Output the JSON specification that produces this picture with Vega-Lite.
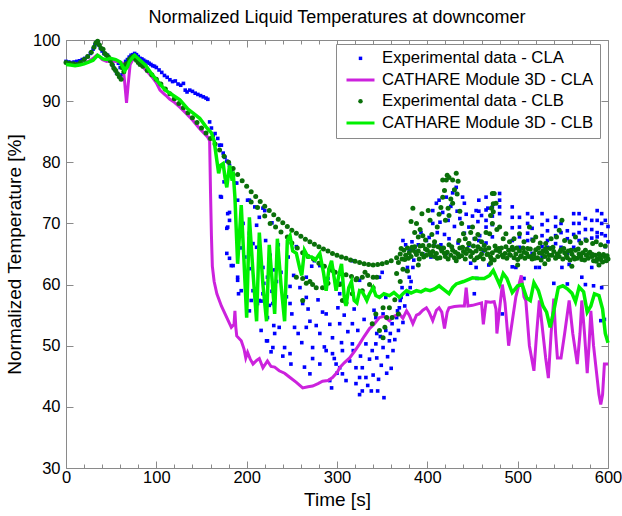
{
"$schema": "https://vega.github.io/schema/vega-lite/v6.json",
"width": 542, "height": 428,
"autosize": {"type": "none"},
"padding": {"left": 66, "top": 40, "right": 14, "bottom": 48},
"background": "white",
"title": {"text": "Normalized Liquid Temperatures at downcomer", "font": "Liberation Sans", "fontSize": 18, "fontWeight": "normal", "color": "black", "offset": 5, "anchor": "middle"},
"config": {
  "view": {"stroke": "#8a8a8a", "strokeWidth": 1},
  "axis": {"domain": false, "grid": false, "tickColor": "#8a8a8a", "tickWidth": 1, "labelFont": "Liberation Sans", "labelFontSize": 16.5, "labelColor": "black", "titleFont": "Liberation Sans", "titleFontSize": 19, "titleFontWeight": "normal", "titleColor": "black", "labelFlush": false, "labelOverlap": false},
  "legend": {"orient": "none", "legendX": 270, "legendY": 4, "padding": 6, "strokeColor": "#8a8a8a", "fillColor": "white", "labelFont": "Liberation Sans", "labelFontSize": 16.7, "labelColor": "black", "labelLimit": 0, "labelOffset": 13, "symbolOffset": 10, "symbolOpacity": 1, "rowPadding": 3.5}
},
"datasets": {
"lg": [{"s":"Experimental data - CLA"},{"s":"CATHARE Module 3D - CLA"},{"s":"Experimental data - CLB"},{"s":"CATHARE Module 3D - CLB"}],
"ea": [
{"t":0,"v":96.5},{"t":3,"v":96.4},{"t":6,"v":96.3},{"t":9,"v":96.4},{"t":12,"v":96.5},{"t":15,"v":96.6},{"t":18,"v":96.8},{"t":21,"v":97.0},{"t":24,"v":97.3},{"t":27,"v":97.8},{"t":30,"v":98.5},{"t":32,"v":99.2},{"t":34,"v":99.6},{"t":36,"v":99.3},{"t":38,"v":98.7},{"t":40,"v":98.2},{"t":42,"v":97.8},{"t":44,"v":97.6},{"t":46,"v":97.5},{"t":48,"v":97.0},{"t":50,"v":96.5},{"t":52,"v":95.8},{"t":54,"v":95.2},{"t":56,"v":94.6},{"t":58,"v":96.2},{"t":60,"v":95.5},{"t":62,"v":94.3},{"t":64,"v":95.8},{"t":66,"v":96.5},{"t":68,"v":96.8},{"t":70,"v":97.2},{"t":72,"v":97.5},{"t":74,"v":97.6},{"t":76,"v":97.8},{"t":78,"v":97.6},{"t":80,"v":97.3},{"t":82,"v":97.0},{"t":84,"v":96.9},{"t":86,"v":96.7},{"t":88,"v":96.5},{"t":90,"v":96.4},{"t":92,"v":96.2},{"t":94,"v":96.0},{"t":96,"v":95.8},{"t":98,"v":95.7},{"t":100,"v":95.5},{"t":103,"v":95.1},{"t":106,"v":94.7},{"t":109,"v":94.2},{"t":112,"v":93.9},{"t":115,"v":93.5},{"t":118,"v":93.2},{"t":121,"v":93.3},{"t":124,"v":92.8},{"t":127,"v":92.6},{"t":130,"v":92.9},{"t":132,"v":91.8},{"t":134,"v":91.5},{"t":137,"v":91.8},{"t":140,"v":91.6},{"t":143,"v":91.3},{"t":146,"v":91.1},{"t":149,"v":90.9},{"t":152,"v":90.7},{"t":155,"v":90.5},{"t":157,"v":90.3},
{"t":159,"v":86.6},{"t":161,"v":85.6},{"t":163,"v":84.4},{"t":165,"v":84.7},{"t":168,"v":83.9},{"t":170,"v":82.8},{"t":172,"v":82.8},{"t":174,"v":81.5},{"t":176,"v":80.8},{"t":178,"v":80.2},{"t":181,"v":79.5},{"t":183,"v":78.5},{"t":171,"v":74.4},{"t":172,"v":74.3},{"t":175,"v":76.8},{"t":179,"v":71.6},{"t":181,"v":71.8},{"t":178,"v":69.2},{"t":179,"v":69.4},{"t":181,"v":70.5},{"t":178,"v":65.1},{"t":181,"v":64.3},{"t":183,"v":63.1},{"t":185,"v":63.1},{"t":187,"v":76.6},{"t":189,"v":76.6},{"t":190,"v":73.8},{"t":190,"v":61.2},{"t":190,"v":60.7},{"t":191,"v":58.5},{"t":194,"v":59},{"t":193,"v":66},{"t":196,"v":70},{"t":198,"v":64.5},{"t":201,"v":73.8},{"t":203,"v":73.8},{"t":203,"v":68.4},{"t":203,"v":67.5},{"t":203,"v":62.6},{"t":205,"v":57.4},{"t":203,"v":55.7},{"t":207,"v":66.7},{"t":207,"v":59},{"t":209,"v":72.7},{"t":211,"v":69.7},{"t":211,"v":66.1},{"t":212,"v":56.9},{"t":214,"v":71},{"t":214,"v":64.4},{"t":214,"v":57.4},{"t":216,"v":52.5},{"t":218,"v":72.5},{"t":218,"v":62.8},{"t":219,"v":60.2},{"t":221,"v":67.2},{"t":223,"v":61.2},{"t":223,"v":54.6},{"t":223,"v":50.8},{"t":225,"v":56.6},{"t":226,"v":64.8},{"t":228,"v":70.1},{"t":228,"v":58.9},{"t":230,"v":53.3},{"t":231,"v":62.4},
{"t":220,"v":72.1},{"t":216,"v":57.3},{"t":218,"v":58.5},{"t":222,"v":50.8},{"t":227,"v":49},{"t":229,"v":56.9},{"t":229,"v":49.7},{"t":231,"v":52},{"t":233,"v":60.5},{"t":235,"v":66.5},{"t":236,"v":53},{"t":238,"v":62},{"t":240,"v":48.3},{"t":242,"v":49.7},{"t":244,"v":58},{"t":246,"v":64.5},{"t":248,"v":56.9},{"t":248,"v":59.7},{"t":248,"v":48.7},{"t":249,"v":47},{"t":250,"v":55.2},{"t":252,"v":61.5},{"t":253,"v":53},{"t":255,"v":66.2},{"t":257,"v":52},{"t":259,"v":59.5},{"t":261,"v":50.5},{"t":262,"v":56.9},{"t":264,"v":46.5},{"t":266,"v":57.9},{"t":266,"v":61.2},{"t":266,"v":53},{"t":268,"v":56},{"t":270,"v":54},{"t":270,"v":45.4},{"t":272,"v":63},{"t":273,"v":49.7},{"t":273,"v":47.9},{"t":275,"v":63.9},{"t":277,"v":53.3},{"t":279,"v":57.5},{"t":281,"v":52},{"t":281,"v":47},{"t":281,"v":63.1},{"t":284,"v":55.5},{"t":286,"v":49.8},{"t":288,"v":55.2},{"t":288,"v":49.2},{"t":290,"v":61},{"t":292,"v":53.5},{"t":292,"v":44.3},{"t":294,"v":43.1},{"t":295,"v":48.7},{"t":295,"v":51.3},{"t":297,"v":47.9},{"t":299,"v":47},{"t":300,"v":45.5},{"t":301,"v":56.2},{"t":303,"v":46.4},{"t":303,"v":58.5},{"t":303,"v":53.6},{"t":304,"v":60.2},{"t":305,"v":50.5},{"t":306,"v":45.4},{"t":306,"v":49.2},{"t":308,"v":55},{"t":310,"v":57.4},{"t":310,"v":44.3},{"t":312,"v":52.3},{"t":314,"v":47.5},{"t":317,"v":50.3},{"t":317,"v":53.6},{"t":318,"v":49.2},{"t":317,"v":63.9},{"t":319,"v":56},{"t":321,"v":46.4},{"t":321,"v":43.8},{"t":323,"v":52.5},{"t":325,"v":44.8},{"t":325,"v":42},{"t":325,"v":60.7},{"t":326,"v":48.3},{"t":328,"v":42.6},{"t":328,"v":46.4},{"t":330,"v":54.3},{"t":332,"v":44.8},{"t":332,"v":57.9},{"t":332,"v":50.3},{"t":334,"v":43.5},{"t":336,"v":47.8},{"t":338,"v":42.6},{"t":339,"v":49.2},{"t":340,"v":45.2},{"t":341,"v":55.8},{"t":343,"v":50.3},{"t":343,"v":54.6},{"t":344,"v":52},{"t":344,"v":48},{"t":345,"v":42.6},{"t":346,"v":44.5},{"t":347,"v":61.2},{"t":348,"v":51.5},{"t":349,"v":46.8},{"t":350,"v":62},{"t":351,"v":49.7},{"t":351,"v":55.2},{"t":352,"v":41.5},{"t":354,"v":52.5},{"t":354,"v":57.9},{"t":355,"v":45.5},{"t":356,"v":48.2},{"t":358,"v":50.8},{"t":359,"v":52},{"t":360,"v":46.3},{"t":361,"v":53.6},{"t":362,"v":49.2},{"t":364,"v":51},{"t":366,"v":54.6},{"t":367,"v":55.7},{"t":368,"v":52.5},{"t":369,"v":56.2},{"t":370,"v":57.4},{"t":371,"v":57.9},{"t":372,"v":59.5},{"t":373,"v":53.8},{"t":375,"v":56.5},{"t":377,"v":62.3},{"t":378,"v":62.8},{"t":378,"v":58.4},{"t":380,"v":61.2},{"t":381,"v":59.5},{"t":382,"v":60.5},{"t":384,"v":62.8},{"t":385,"v":64},
{"t":373,"v":67.2},{"t":376,"v":66.5},{"t":380,"v":65.6},{"t":383,"v":67},{"t":386,"v":66},{"t":390,"v":66.5},{"t":393,"v":68.5},{"t":395,"v":65},{"t":399,"v":67.2},{"t":402,"v":67.7},{"t":404,"v":64.5},{"t":406,"v":70},{"t":406,"v":72.1},{"t":408,"v":66.8},{"t":410,"v":73.3},{"t":411,"v":68.5},{"t":413,"v":73.8},{"t":414,"v":70.2},{"t":415,"v":66.5},{"t":417,"v":71.8},{"t":419,"v":68.2},{"t":421,"v":74.3},{"t":421,"v":65.1},{"t":423,"v":70.5},{"t":424,"v":67.5},{"t":426,"v":72.8},{"t":428,"v":75},{"t":430,"v":75.4},{"t":430,"v":69.5},{"t":432,"v":75.9},{"t":433,"v":72},{"t":434,"v":66.8},{"t":436,"v":70.8},{"t":439,"v":74.3},{"t":441,"v":73.3},{"t":441,"v":68.4},{"t":443,"v":71.5},{"t":446,"v":69.4},{"t":446,"v":66.4},{"t":448,"v":63.5},{"t":450,"v":71.2},{"t":452,"v":67.5},{"t":454,"v":72.1},{"t":454,"v":62.8},{"t":455,"v":61},{"t":452,"v":58.5},{"t":456,"v":70.3},{"t":458,"v":68},{"t":460,"v":71.3},{"t":462,"v":65.5},{"t":465,"v":69.4},{"t":465,"v":66.8},{"t":467,"v":72.5},{"t":468,"v":63.2},
{"t":457,"v":73.8},{"t":457,"v":72},{"t":457,"v":67.2},{"t":465,"v":74.3},{"t":465,"v":72.2},{"t":465,"v":70.5},{"t":472,"v":72.7},{"t":472,"v":71.2},{"t":472,"v":69.8},{"t":472,"v":67.8},{"t":480,"v":74.9},{"t":480,"v":73.8},{"t":480,"v":72.7},{"t":480,"v":71.6},{"t":483,"v":55.2},{"t":494,"v":72.7},{"t":494,"v":71},{"t":494,"v":69.3},{"t":494,"v":67.2},{"t":494,"v":62.9},{"t":498,"v":62.8},{"t":502,"v":71},{"t":502,"v":69.4},{"t":502,"v":67.8},{"t":502,"v":66.1},{"t":507,"v":61},{"t":511,"v":71.6},{"t":511,"v":70},{"t":511,"v":68.4},{"t":511,"v":67.2},{"t":516,"v":71},{"t":516,"v":69.2},{"t":516,"v":67.4},{"t":516,"v":65.1},{"t":520,"v":62.8},{"t":524,"v":62.8},{"t":527,"v":71.6},{"t":527,"v":69.8},{"t":527,"v":68},{"t":527,"v":66.2},{"t":527,"v":64.5},{"t":533,"v":70.5},{"t":533,"v":68.8},{"t":533,"v":67.2},{"t":533,"v":66.1},{"t":540,"v":60.2},{"t":542,"v":71},{"t":542,"v":69.5},{"t":542,"v":68},{"t":542,"v":66.7},{"t":548,"v":70},{"t":548,"v":68.5},{"t":548,"v":66.1},{"t":549,"v":62.8},{"t":555,"v":68.8},{"t":555,"v":67.5},{"t":555,"v":65.1},{"t":555,"v":60.1},{"t":557,"v":63.3},{"t":562,"v":71.6},{"t":562,"v":70},{"t":562,"v":68.2},{"t":562,"v":66.1},{"t":568,"v":71.6},{"t":568,"v":70},{"t":568,"v":68.5},{"t":568,"v":67.2},{"t":571,"v":61.2},{"t":575,"v":70.8},{"t":575,"v":69},{"t":575,"v":67.4},{"t":575,"v":60},{"t":582,"v":70.5},{"t":582,"v":69},{"t":582,"v":67.6},{"t":582,"v":62.8},{"t":584,"v":59.8},{"t":588,"v":72.1},{"t":588,"v":70.5},{"t":588,"v":68.5},{"t":588,"v":67.8},{"t":592,"v":54.1},{"t":593,"v":71.6},{"t":593,"v":70},{"t":593,"v":68.3},{"t":593,"v":59.5},{"t":596,"v":54.3},{"t":597,"v":70.5},{"t":597,"v":68},{"t":597,"v":66.2},{"t":600,"v":69.5},{"t":600,"v":67}
],
"ca": [
{"t":0,"v":96.2},{"t":5,"v":96.2},{"t":10,"v":96.1},{"t":15,"v":96.0},{"t":20,"v":96.2},{"t":25,"v":96.5},{"t":30,"v":97.0},{"t":34,"v":97.5},{"t":37,"v":97.3},{"t":40,"v":96.8},{"t":45,"v":96.5},{"t":50,"v":96.6},{"t":55,"v":96.5},{"t":60,"v":96.4},{"t":63,"v":96.2},{"t":65,"v":93},{"t":67,"v":89.7},{"t":69,"v":93},{"t":71,"v":96.0},{"t":74,"v":96.8},{"t":77,"v":97.2},{"t":80,"v":96.5},{"t":85,"v":95.6},{"t":90,"v":94.8},{"t":95,"v":94},{"t":100,"v":93},{"t":104,"v":91.8},{"t":110,"v":91},{"t":115,"v":90.3},{"t":120,"v":89.8},{"t":126,"v":89},{"t":133,"v":88},{"t":140,"v":86.9},{"t":148,"v":85.5},{"t":157,"v":84.1},{"t":159,"v":83.5},{"t":160,"v":75},{"t":161,"v":68},{"t":162,"v":63},{"t":164,"v":60.5},{"t":167,"v":58.5},{"t":172,"v":56.5},{"t":178,"v":54.6},{"t":183,"v":53},{"t":186,"v":53.5},{"t":187,"v":55.7},{"t":188,"v":53},{"t":189,"v":51.6},{"t":194,"v":50.8},{"t":197,"v":49.5},{"t":199,"v":48},{"t":201,"v":48.9},{"t":204,"v":47.8},{"t":207,"v":47},{"t":211,"v":47.6},{"t":214,"v":47.9},{"t":218,"v":46.4},{"t":223,"v":47.5},{"t":227,"v":46.6},{"t":231,"v":46.5},{"t":236,"v":45.9},{"t":242,"v":45.5},{"t":248,"v":44.8},{"t":255,"v":44},{"t":262,"v":43.1},{"t":268,"v":43.3},{"t":273,"v":43.4},{"t":279,"v":43.8},{"t":284,"v":44.2},{"t":290,"v":44.3},{"t":295,"v":44.8},{"t":300,"v":45.6},{"t":303,"v":46.4},{"t":308,"v":47.2},{"t":314,"v":48},{"t":320,"v":49.2},{"t":325,"v":50.3},{"t":330,"v":51.5},{"t":336,"v":52.8},{"t":341,"v":53.5},{"t":347,"v":54.6},{"t":352,"v":54.8},{"t":358,"v":54.1},{"t":363,"v":54.8},{"t":369,"v":55.2},{"t":373,"v":54.5},{"t":377,"v":55.7},{"t":380,"v":55},{"t":384,"v":53.6},{"t":388,"v":55},{"t":391,"v":55.2},{"t":395,"v":55.8},{"t":399,"v":56.2},{"t":402,"v":55.5},{"t":406,"v":54.1},{"t":410,"v":55.8},{"t":413,"v":56.2},{"t":416,"v":55.5},{"t":419,"v":52.8},{"t":422,"v":55.5},{"t":424,"v":56.2},{"t":430,"v":56.4},{"t":436,"v":56.5},{"t":441,"v":56.5},{"t":443,"v":59.5},{"t":445,"v":56.5},{"t":450,"v":56.6},{"t":455,"v":56.8},{"t":460,"v":57},{"t":462,"v":53.5},{"t":465,"v":57.2},{"t":470,"v":57.1},{"t":474,"v":57.2},{"t":476,"v":56},{"t":477,"v":52},{"t":480,"v":56},{"t":483,"v":60},{"t":486,"v":57},{"t":490,"v":50},{"t":494,"v":54},{"t":498,"v":58},{"t":504,"v":61.5},{"t":507,"v":58},{"t":509,"v":57.4},{"t":513,"v":50},{"t":518,"v":45.9},{"t":521,"v":52},{"t":524,"v":57.4},{"t":528,"v":52},{"t":531,"v":48},{"t":534,"v":44.7},{"t":537,"v":52},{"t":540,"v":57.7},{"t":542,"v":52},{"t":544,"v":48},{"t":548,"v":48},{"t":552,"v":52},{"t":557,"v":57.4},{"t":561,"v":52},{"t":566,"v":47},{"t":569,"v":52},{"t":571,"v":57.4},{"t":574,"v":52},{"t":577,"v":45.5},{"t":579,"v":50},{"t":581,"v":55.7},{"t":584,"v":50},{"t":587,"v":46},{"t":590,"v":42},{"t":592,"v":40.4},{"t":594,"v":42},{"t":596,"v":47},{"t":600,"v":47}
],
"eb": [
{"t":0,"v":96.3},{"t":4,"v":96.2},{"t":8,"v":96.1},{"t":12,"v":96.0},{"t":16,"v":96.3},{"t":20,"v":96.8},{"t":24,"v":97.3},{"t":28,"v":98},{"t":31,"v":98.8},{"t":33,"v":99.5},{"t":35,"v":99.8},{"t":37,"v":99.2},{"t":39,"v":98.6},{"t":41,"v":98.5},{"t":43,"v":97.8},{"t":45,"v":97.5},{"t":47,"v":97.2},{"t":49,"v":96.6},{"t":51,"v":96.0},{"t":53,"v":95.4},{"t":55,"v":95.0},{"t":57,"v":94.5},{"t":59,"v":94.0},{"t":61,"v":93.6},{"t":62,"v":95.5},{"t":64,"v":94.8},{"t":66,"v":96.0},{"t":68,"v":96.2},{"t":70,"v":96.8},{"t":72,"v":97.1},{"t":74,"v":97.3},{"t":76,"v":97.0},{"t":78,"v":96.7},{"t":80,"v":96.3},{"t":82,"v":96.0},
{"t":85,"v":95.7},{"t":90,"v":95.0},{"t":95,"v":94.3},{"t":100,"v":93.6},{"t":105,"v":92.8},{"t":110,"v":92.0},{"t":115,"v":91.2},{"t":120,"v":90.4},{"t":125,"v":89.6},{"t":130,"v":88.9},{"t":135,"v":88.1},{"t":140,"v":87.3},{"t":145,"v":86.5},{"t":150,"v":85.6},{"t":155,"v":84.8},{"t":160,"v":83.9},{"t":165,"v":83.0},{"t":170,"v":82.0},{"t":175,"v":81.0},{"t":180,"v":80.0},{"t":185,"v":79.0},{"t":190,"v":78.0},{"t":195,"v":77.0},{"t":200,"v":76.1},{"t":205,"v":75.2},{"t":210,"v":74.4},{"t":215,"v":73.6},{"t":220,"v":72.8},{"t":225,"v":72.1},{"t":230,"v":71.4},{"t":235,"v":70.7},{"t":240,"v":70.1},{"t":245,"v":69.5},{"t":250,"v":68.9},{"t":255,"v":68.4},{"t":260,"v":67.9},{"t":265,"v":67.4},{"t":270,"v":67.0},{"t":275,"v":66.6},{"t":280,"v":66.2},{"t":285,"v":65.8},{"t":290,"v":65.5},{"t":295,"v":65.1},{"t":300,"v":64.8},{"t":305,"v":64.5},{"t":310,"v":64.3},{"t":315,"v":64.0},{"t":320,"v":63.8},{"t":325,"v":63.6},{"t":330,"v":63.4},{"t":335,"v":63.3},{"t":340,"v":63.2},{"t":345,"v":63.3},{"t":350,"v":63.4},{"t":355,"v":63.6},{"t":360,"v":63.9},
{"t":205,"v":73.5},{"t":212,"v":72.6},{"t":220,"v":71.2},{"t":226,"v":70.0},{"t":232,"v":69.4},{"t":238,"v":68.6},{"t":245,"v":67.8},{"t":250,"v":66.8},{"t":256,"v":66.0},{"t":262,"v":65.2},{"t":268,"v":64.6},{"t":274,"v":64.2},{"t":280,"v":63.5},{"t":286,"v":63.0},{"t":292,"v":62.5},{"t":298,"v":62.0},{"t":304,"v":61.8},{"t":310,"v":61.6},{"t":316,"v":61.3},{"t":322,"v":61.0},{"t":328,"v":61.2},{"t":334,"v":61.5},{"t":340,"v":61.2},
{"t":255,"v":61.2},{"t":262,"v":61.0},{"t":262,"v":57.4},{"t":266,"v":60.2},{"t":270,"v":60.5},{"t":273,"v":60},{"t":277,"v":59.5},{"t":284,"v":59.5},{"t":290,"v":60.2},{"t":295,"v":62.3},{"t":303,"v":60.0},{"t":306,"v":57.4},{"t":310,"v":57.0},{"t":317,"v":58.5},{"t":321,"v":60.8},{"t":328,"v":59.0},{"t":331,"v":62.0},{"t":336,"v":60.0},{"t":340,"v":59.5},{"t":343,"v":55.2},{"t":344,"v":61.2},{"t":339,"v":53.6},{"t":347,"v":52.5},{"t":351,"v":51.3},{"t":351,"v":56.2},{"t":353,"v":53.0},{"t":355,"v":54.6},{"t":358,"v":56.2},{"t":361,"v":54.6},{"t":364,"v":57.5},{"t":366,"v":61.8},{"t":368,"v":55.2},{"t":370,"v":60.5},{"t":373,"v":62.5},{"t":378,"v":62.2},{"t":390,"v":63.2},
{"t":366,"v":64.4},{"t":368,"v":63.6},{"t":370,"v":65.0},{"t":372,"v":64.2},{"t":374,"v":65.6},{"t":376,"v":64.8},{"t":378,"v":66.0},{"t":380,"v":65.2},{"t":382,"v":64.6},{"t":384,"v":65.6},{"t":386,"v":66.2},{"t":388,"v":64.9},{"t":390,"v":65.5},{"t":392,"v":66.3},{"t":394,"v":65.0},{"t":396,"v":64.5},{"t":398,"v":65.8},{"t":400,"v":65.6},{"t":402,"v":66.4},{"t":404,"v":64.8},{"t":406,"v":65.4},{"t":408,"v":64.6},{"t":410,"v":65.1},{"t":412,"v":66.2},{"t":414,"v":64.4},{"t":416,"v":65.5},{"t":418,"v":66.0},{"t":420,"v":64.6},{"t":422,"v":65.3},{"t":424,"v":66.5},{"t":426,"v":64.8},{"t":428,"v":65.6},{"t":430,"v":64.4},{"t":432,"v":63.9},{"t":434,"v":65.0},{"t":436,"v":66.0},{"t":438,"v":64.7},{"t":440,"v":65.4},{"t":442,"v":64.2},{"t":444,"v":65.8},{"t":446,"v":66.7},{"t":448,"v":64.6},{"t":450,"v":65.2},{"t":452,"v":64.0},{"t":454,"v":65.5},{"t":456,"v":66.2},{"t":458,"v":64.6},{"t":460,"v":65.0},{"t":462,"v":64.2},{"t":464,"v":65.7},{"t":466,"v":64.9},{"t":468,"v":66.0},{"t":470,"v":64.5},{"t":472,"v":65.2},{"t":474,"v":64.0},{"t":476,"v":65.6},{"t":478,"v":64.6},{"t":480,"v":65.4},{"t":482,"v":66.0},{"t":484,"v":64.5},{"t":486,"v":65.1},{"t":488,"v":64.3},{"t":490,"v":65.6},{"t":492,"v":64.8},{"t":494,"v":66.1},{"t":496,"v":64.4},{"t":498,"v":65.0},{"t":500,"v":64.1},{"t":502,"v":65.5},{"t":504,"v":64.7},{"t":506,"v":66.0},{"t":508,"v":64.3},{"t":510,"v":65.1},{"t":512,"v":64.6},{"t":514,"v":65.8},{"t":516,"v":64.2},{"t":518,"v":65.0},{"t":520,"v":65.7},{"t":522,"v":64.4},{"t":524,"v":65.2},{"t":526,"v":64.0},{"t":528,"v":65.5},{"t":530,"v":64.6},{"t":532,"v":65.3},{"t":534,"v":64.1},{"t":536,"v":65.9},{"t":538,"v":64.8},{"t":540,"v":65.4},{"t":542,"v":64.3},{"t":544,"v":65.0},{"t":546,"v":64.6},{"t":548,"v":65.7},{"t":550,"v":64.2},{"t":552,"v":65.2},{"t":554,"v":64.7},{"t":556,"v":65.5},{"t":558,"v":64.0},{"t":560,"v":65.0},{"t":562,"v":64.5},{"t":564,"v":65.6},{"t":566,"v":64.3},{"t":568,"v":65.0},{"t":570,"v":64.6},{"t":572,"v":65.2},{"t":574,"v":64.0},{"t":576,"v":64.8},{"t":578,"v":64.3},{"t":580,"v":65.3},{"t":582,"v":64.6},{"t":584,"v":63.9},{"t":586,"v":64.8},{"t":588,"v":64.2},{"t":590,"v":65.0},{"t":592,"v":64.1},{"t":594,"v":63.7},{"t":596,"v":64.6},{"t":598,"v":63.9},{"t":600,"v":64.2},
{"t":371,"v":65.9},{"t":375,"v":64.1},{"t":379,"v":64.3},{"t":383,"v":66.1},{"t":387,"v":65.3},{"t":391,"v":64.2},{"t":395,"v":66.4},{"t":399,"v":64.8},{"t":403,"v":65.2},{"t":407,"v":66.3},{"t":411,"v":64.3},{"t":415,"v":65.9},{"t":419,"v":65.1},{"t":423,"v":64.2},{"t":427,"v":66.2},{"t":431,"v":65.3},{"t":435,"v":64.5},{"t":439,"v":66.1},{"t":443,"v":65.1},{"t":447,"v":65.5},{"t":451,"v":66.3},{"t":455,"v":64.4},{"t":459,"v":65.8},{"t":463,"v":66.4},{"t":467,"v":65.0},{"t":471,"v":64.2},{"t":475,"v":66.3},{"t":479,"v":65.9},{"t":483,"v":64.8},{"t":487,"v":66.2},{"t":491,"v":64.9},{"t":495,"v":65.7},{"t":499,"v":66.0},{"t":503,"v":64.5},{"t":507,"v":65.3},{"t":511,"v":65.9},{"t":515,"v":64.6},{"t":519,"v":64.3},{"t":523,"v":66.0},{"t":527,"v":65.1},{"t":531,"v":65.9},{"t":535,"v":64.8},{"t":539,"v":66.1},{"t":543,"v":64.5},{"t":547,"v":65.4},{"t":551,"v":65.9},{"t":555,"v":64.4},{"t":559,"v":65.6},{"t":563,"v":64.2},{"t":567,"v":65.8},{"t":571,"v":64.1},{"t":575,"v":65.6},{"t":579,"v":65.1},{"t":583,"v":64.9},{"t":587,"v":63.8},{"t":591,"v":64.6},{"t":595,"v":64.9},{"t":599,"v":64.7},
{"t":382,"v":70.3},{"t":384,"v":72.5},{"t":386,"v":68.5},{"t":388,"v":70},{"t":390,"v":67.8},{"t":392,"v":69},{"t":394,"v":71.6},{"t":395,"v":68},{"t":398,"v":67.3},{"t":401,"v":72.1},{"t":403,"v":70.5},{"t":405,"v":68.2},{"t":408,"v":67},{"t":411,"v":69.4},{"t":413,"v":71.5},{"t":415,"v":72.6},{"t":417,"v":74.3},{"t":417,"v":77.1},{"t":419,"v":75.4},{"t":420,"v":70.5},{"t":421,"v":77.1},{"t":422,"v":77.9},{"t":423,"v":72.5},{"t":424,"v":77.5},{"t":424,"v":71.3},{"t":426,"v":74},{"t":428,"v":77.1},{"t":428,"v":73.3},{"t":430,"v":75.5},{"t":432,"v":78.2},{"t":433,"v":74.8},{"t":434,"v":76.9},{"t":435,"v":67.2},{"t":436,"v":72},{"t":438,"v":70},{"t":440,"v":68.3},{"t":442,"v":67.5},{"t":446,"v":66.7},{"t":448,"v":68.5},{"t":450,"v":69.4},{"t":453,"v":67.5},{"t":456,"v":68.2},{"t":460,"v":67},{"t":465,"v":68.5},{"t":469,"v":68.3},{"t":470,"v":71.3},{"t":471,"v":72.5},{"t":472,"v":74.9},{"t":472,"v":70},{"t":473,"v":73.2},{"t":474,"v":74.9},{"t":473,"v":71.9},{"t":476,"v":73.3},{"t":477,"v":69},{"t":480,"v":69.4},{"t":484,"v":67.5},{"t":487,"v":68.3},{"t":491,"v":67},{"t":496,"v":67.5},{"t":502,"v":68.3},{"t":507,"v":67},{"t":513,"v":69.4},{"t":517,"v":67.2},{"t":520,"v":67.8},{"t":525,"v":66.8},{"t":531,"v":66.7},{"t":537,"v":67.5},{"t":543,"v":67.8},{"t":546,"v":68.9},{"t":549,"v":70.5},{"t":552,"v":67.2},{"t":558,"v":67},{"t":564,"v":67.8},{"t":570,"v":66.8},{"t":576,"v":67.2},{"t":583,"v":66.7},{"t":587,"v":67},{"t":592,"v":66.5},{"t":597,"v":66.3},{"t":470,"v":63.5},{"t":500,"v":63.2},{"t":530,"v":63.4},{"t":560,"v":63.0},{"t":590,"v":63.2}
],
"cb": [
{"t":0,"v":96.0},{"t":5,"v":95.9},{"t":10,"v":95.8},{"t":15,"v":95.9},{"t":20,"v":96.1},{"t":25,"v":96.4},{"t":30,"v":96.7},{"t":35,"v":97.5},{"t":38,"v":97.2},{"t":41,"v":96.9},{"t":45,"v":96.8},{"t":49,"v":97.0},{"t":55,"v":96.8},{"t":60,"v":96.4},{"t":63,"v":95.6},{"t":65,"v":95.0},{"t":68,"v":95.6},{"t":70,"v":96.4},{"t":73,"v":97.0},{"t":76,"v":97.5},{"t":79,"v":97.1},{"t":82,"v":96.7},{"t":88,"v":95.9},{"t":95,"v":94.4},{"t":104,"v":92.8},{"t":110,"v":91.8},{"t":118,"v":91.0},{"t":126,"v":90.2},{"t":135,"v":88.7},{"t":148,"v":87.2},{"t":155,"v":85.8},{"t":161,"v":84.8},{"t":164,"v":83.5},{"t":167,"v":80.3},{"t":169,"v":78.2},{"t":171,"v":79.5},{"t":174,"v":79.8},{"t":176,"v":77.5},{"t":178,"v":75.9},{"t":181,"v":79.5},{"t":184,"v":77},{"t":185,"v":78.5},{"t":187,"v":74.3},{"t":190,"v":63.4},{"t":192,"v":68},{"t":194,"v":73},{"t":197,"v":64},{"t":200,"v":54.6},{"t":203,"v":71},{"t":207,"v":62},{"t":211,"v":54},{"t":214,"v":68.5},{"t":218,"v":60},{"t":222,"v":54},{"t":225,"v":66.5},{"t":228,"v":61},{"t":231,"v":55.2},{"t":234,"v":67.5},{"t":238,"v":60},{"t":242,"v":54},{"t":245,"v":67.2},{"t":248,"v":68},{"t":251,"v":65.5},{"t":255,"v":65.1},{"t":259,"v":62.5},{"t":261,"v":61.5},{"t":264,"v":65.6},{"t":268,"v":64.5},{"t":272,"v":64.5},{"t":276,"v":64},{"t":281,"v":65.1},{"t":285,"v":62},{"t":288,"v":59},{"t":291,"v":62.5},{"t":294,"v":63.9},{"t":297,"v":61},{"t":299,"v":59},{"t":302,"v":61.5},{"t":305,"v":63.4},{"t":308,"v":58},{"t":310,"v":56.5},{"t":313,"v":59.5},{"t":316,"v":60.5},{"t":319,"v":57.4},{"t":322,"v":57},{"t":325,"v":59},{"t":328,"v":58.8},{"t":331,"v":58},{"t":333,"v":57.4},{"t":336,"v":58.5},{"t":340,"v":59.5},{"t":343,"v":58.2},{"t":347,"v":57.9},{"t":352,"v":58.5},{"t":358,"v":58.2},{"t":363,"v":58.7},{"t":369,"v":57.9},{"t":373,"v":58.5},{"t":377,"v":59},{"t":382,"v":58.6},{"t":388,"v":59},{"t":393,"v":58.8},{"t":398,"v":59.2},{"t":403,"v":59},{"t":408,"v":59.3},{"t":413,"v":59.8},{"t":418,"v":59.2},{"t":424,"v":58.5},{"t":428,"v":59.5},{"t":432,"v":60.1},{"t":440,"v":60.5},{"t":450,"v":61.1},{"t":457,"v":61},{"t":463,"v":61},{"t":469,"v":61.5},{"t":473,"v":62.3},{"t":477,"v":61},{"t":480,"v":60},{"t":484,"v":61.8},{"t":488,"v":61},{"t":494,"v":58.7},{"t":500,"v":59.8},{"t":505,"v":60},{"t":510,"v":57.8},{"t":514,"v":57.4},{"t":518,"v":60.3},{"t":523,"v":59},{"t":528,"v":56.5},{"t":532,"v":55.5},{"t":536,"v":53},{"t":540,"v":55.7},{"t":545,"v":59.5},{"t":550,"v":59.8},{"t":555,"v":59.3},{"t":560,"v":58.6},{"t":564,"v":57.2},{"t":568,"v":59.6},{"t":573,"v":58.8},{"t":577,"v":55.5},{"t":581,"v":56.5},{"t":585,"v":58.5},{"t":590,"v":58.2},{"t":594,"v":56},{"t":597,"v":52},{"t":600,"v":50.5}
]
},
"layer": [
{"data": {"name": "ea"}, "mark": {"type": "point", "shape": "square", "filled": true, "size": 13, "opacity": 1},
 "encoding": {
  "x": {"field": "t", "type": "quantitative", "scale": {"domain": [0, 600], "nice": false, "zero": false},
        "axis": {"orient": "bottom", "title": "Time [s]", "values": [0,20,40,60,80,100,120,140,160,180,200,220,240,260,280,300,320,340,360,380,400,420,440,460,480,500,520,540,560,580,600], "labelExpr": "datum.value % 100 === 0 ? datum.label : ''", "tickSize": {"condition": {"test": "datum.value % 100 === 0", "value": -7}, "value": -4}, "labelPadding": 8, "titlePadding": 2}},
  "y": {"field": "v", "type": "quantitative", "scale": {"domain": [30, 100], "nice": false, "zero": false},
        "axis": {"orient": "left", "title": "Normalized Temperature [%]", "values": [30,40,50,60,70,80,90,100], "tickSize": -7, "labelPadding": 13, "titlePadding": 8}},
  "color": {"datum": "Experimental data - CLA", "type": "nominal",
    "scale": {"domain": ["Experimental data - CLA", "CATHARE Module 3D - CLA", "Experimental data - CLB", "CATHARE Module 3D - CLB"], "range": ["#0000ff", "#cc22dd", "#0a700a", "#00f000"]},
    "legend": {"title": null}}
 }},
{"data": {"name": "ca"}, "mark": {"type": "line", "strokeWidth": 3},
 "encoding": {"x": {"field": "t", "type": "quantitative", "axis": null}, "y": {"field": "v", "type": "quantitative", "axis": null}, "color": {"datum": "CATHARE Module 3D - CLA", "type": "nominal", "legend": {"title": null}}}},
{"data": {"name": "eb"}, "mark": {"type": "point", "shape": "circle", "filled": true, "size": 25, "opacity": 1},
 "encoding": {"x": {"field": "t", "type": "quantitative", "axis": null}, "y": {"field": "v", "type": "quantitative", "axis": null}, "color": {"datum": "Experimental data - CLB", "type": "nominal", "legend": {"title": null}}}},
{"data": {"name": "cb"}, "mark": {"type": "line", "strokeWidth": 3.5},
 "encoding": {
  "x": {"field": "t", "type": "quantitative", "axis": {"orient": "top", "title": null, "labels": false, "values": [0,20,40,60,80,100,120,140,160,180,200,220,240,260,280,300,320,340,360,380,400,420,440,460,480,500,520,540,560,580,600], "tickSize": {"condition": {"test": "datum.value % 100 === 0", "value": -7}, "value": -4}}},
  "y": {"field": "v", "type": "quantitative", "axis": {"orient": "right", "title": null, "labels": false, "values": [30,40,50,60,70,80,90,100], "tickSize": -7}},
  "color": {"datum": "CATHARE Module 3D - CLB", "type": "nominal", "legend": {"title": null}}}},
{"data": {"name": "lg"}, "mark": {"type": "point", "filled": true, "opacity": 0},
 "encoding": {
  "x": {"datum": 300, "type": "quantitative", "axis": null},
  "y": {"datum": 60, "type": "quantitative", "axis": null},
  "color": {"field": "s", "type": "nominal", "legend": {"title": null}},
  "stroke": {"field": "s", "type": "nominal", "scale": {"domain": ["Experimental data - CLA", "CATHARE Module 3D - CLA", "Experimental data - CLB", "CATHARE Module 3D - CLB"], "range": ["#0000ff", "#cc22dd", "#0a700a", "#00f000"]}, "legend": {"title": null}},
  "shape": {"field": "s", "type": "nominal", "scale": {"domain": ["Experimental data - CLA", "CATHARE Module 3D - CLA", "Experimental data - CLB", "CATHARE Module 3D - CLB"], "range": ["square", "M-2,0H2", "circle", "M-2,0H2"]}, "legend": {"title": null}},
  "size": {"field": "s", "type": "nominal", "scale": {"type": "ordinal", "domain": ["Experimental data - CLA", "CATHARE Module 3D - CLA", "Experimental data - CLB", "CATHARE Module 3D - CLB"], "range": [12, 196, 20, 196]}, "legend": {"title": null}},
  "strokeWidth": {"field": "s", "type": "nominal", "scale": {"type": "ordinal", "domain": ["Experimental data - CLA", "CATHARE Module 3D - CLA", "Experimental data - CLB", "CATHARE Module 3D - CLB"], "range": [0, 3, 0, 3]}, "legend": {"title": null}}
 }}
],
"resolve": {"axis": {"x": "independent", "y": "independent"}}
}
